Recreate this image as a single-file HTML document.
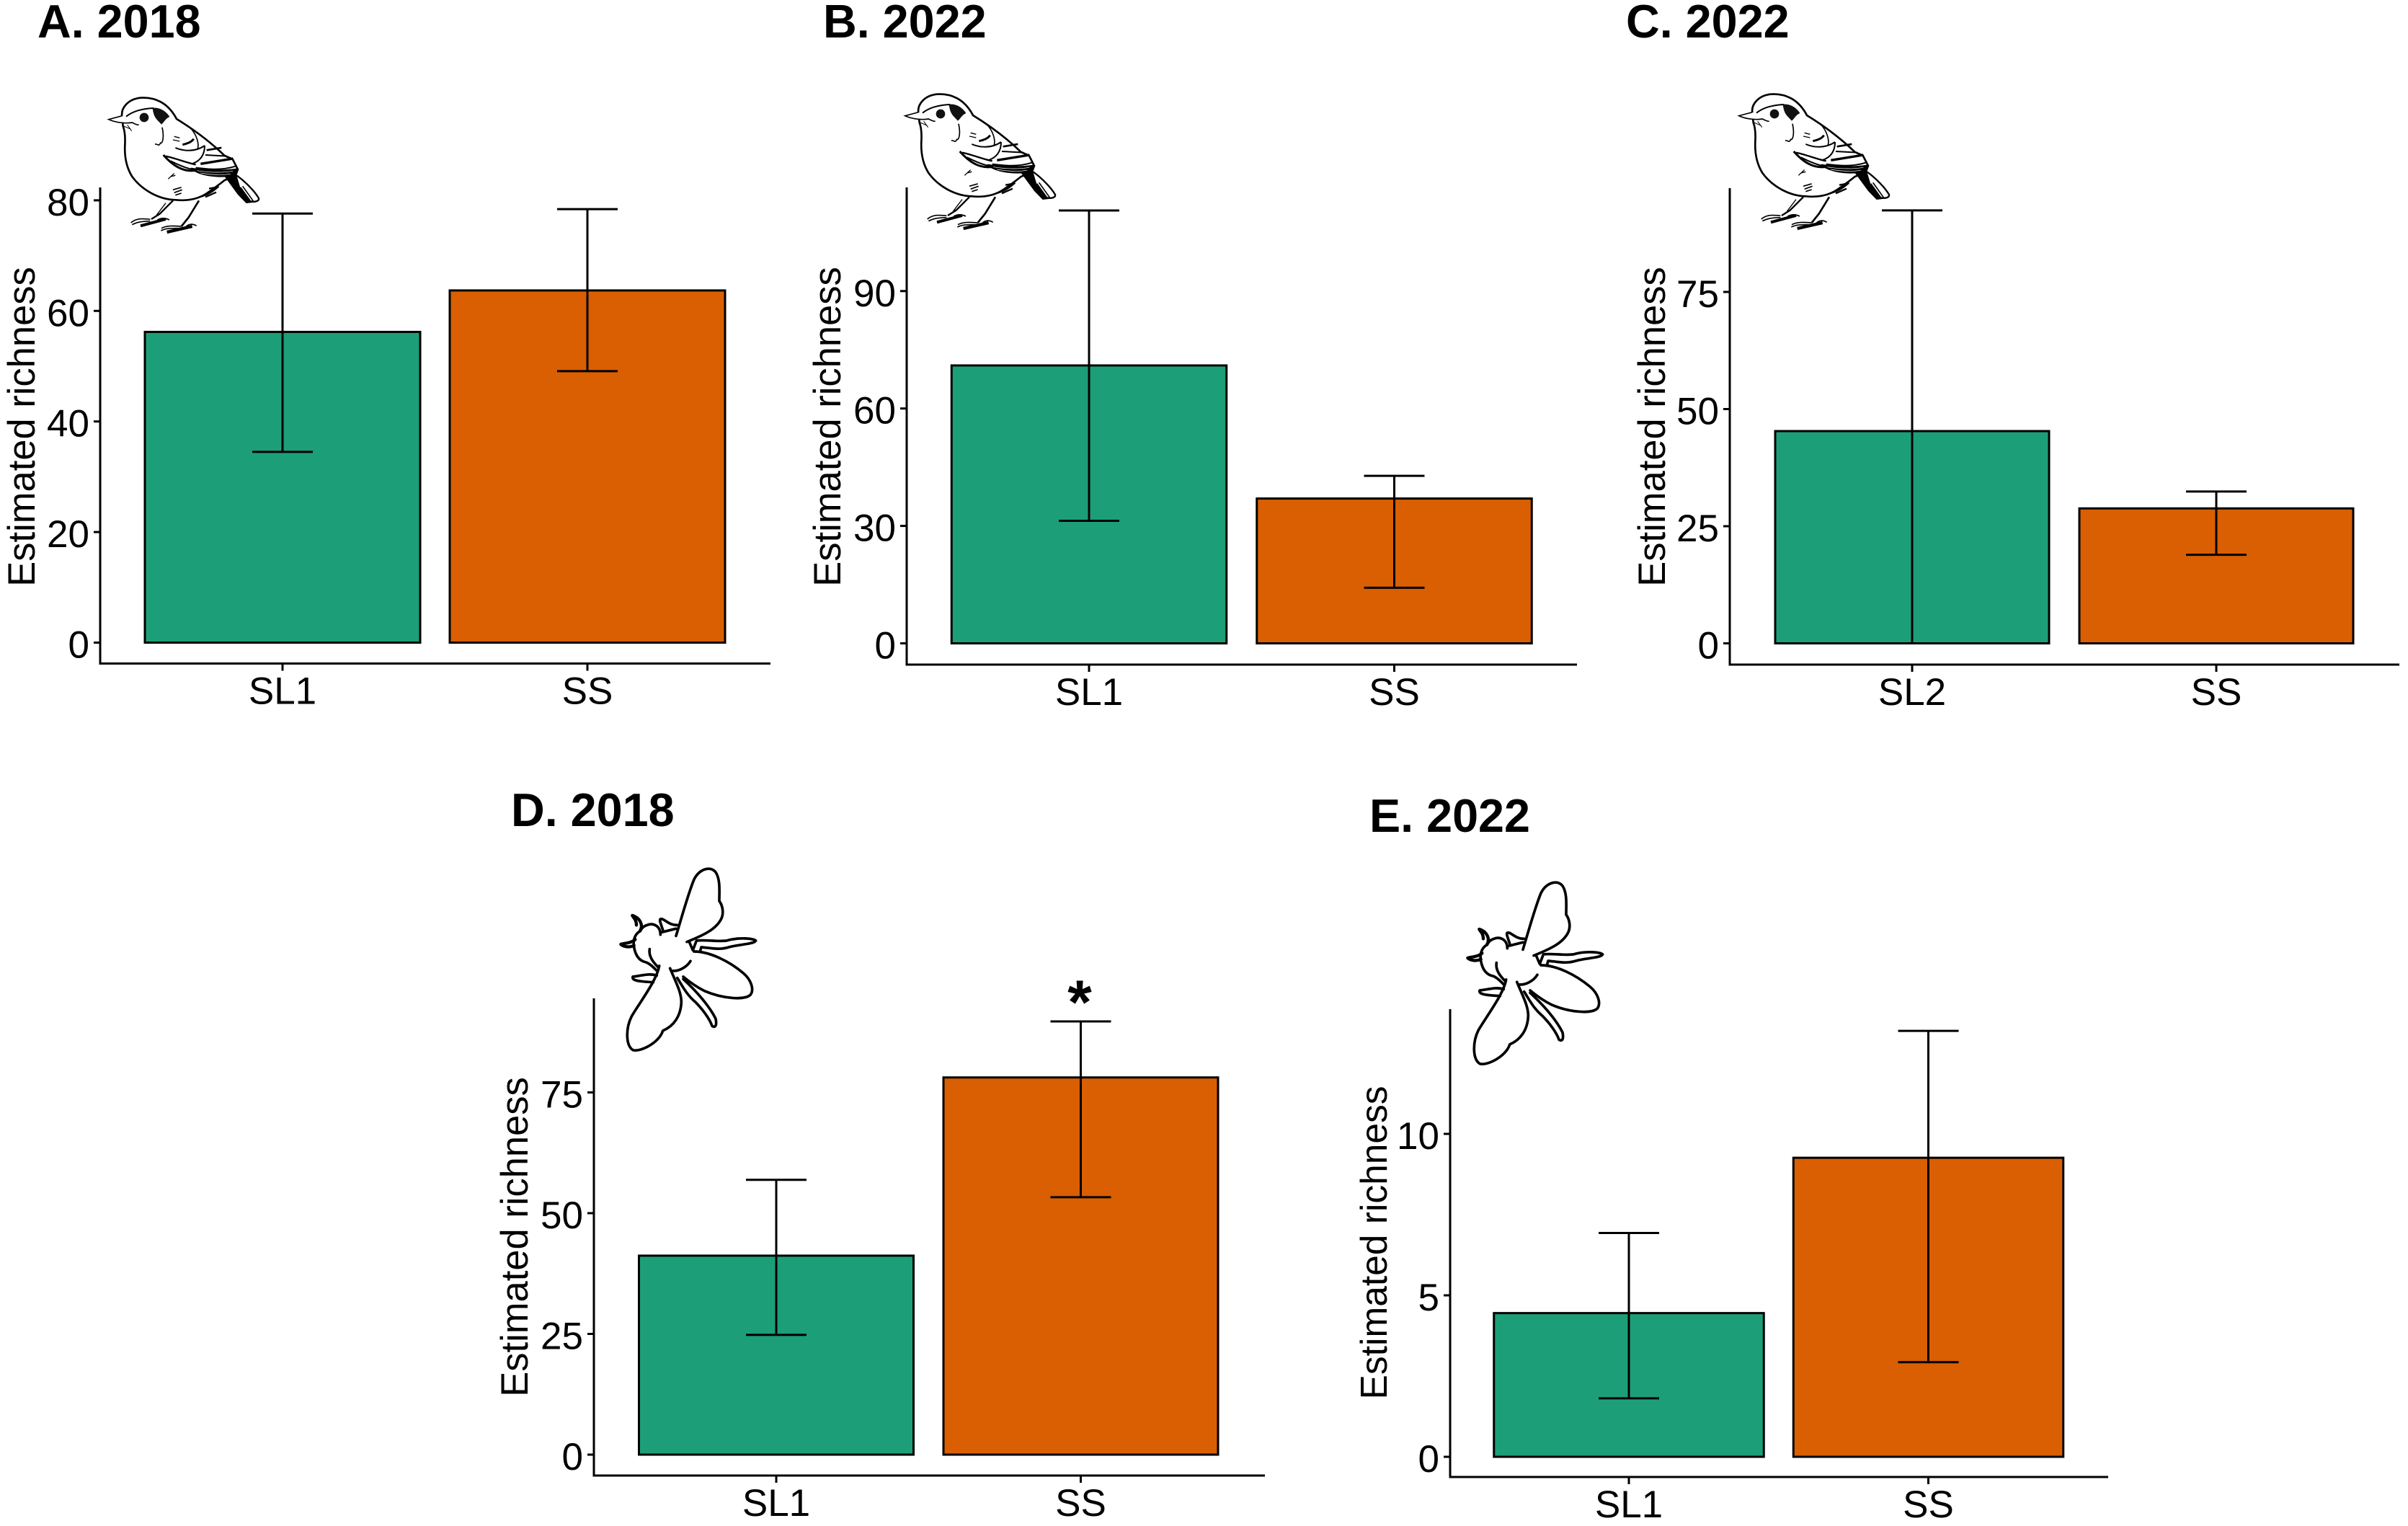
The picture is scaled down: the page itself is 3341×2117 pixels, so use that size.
<!DOCTYPE html>
<html lang="en">
<head>
<meta charset="utf-8">
<title>Estimated richness by habitat</title>
<style>
html,body{margin:0;padding:0;background:#fff;}
svg{display:block;}
text{font-family:"Liberation Sans",Arial,sans-serif;fill:#000;}
</style>
</head>
<body>
<svg id="figure" xmlns="http://www.w3.org/2000/svg" width="3341" height="2117" viewBox="0 0 3341 2117">
  <defs>
    <g id="bird-icon">
      <path d="M118,125 C112,88 145,52 195,47 C255,43 310,68 345,135 C405,172 480,225 545,288 L578,302 L600,345 L590,372 L545,390 C520,410 500,425 470,445 C440,465 400,478 340,472 C270,470 200,430 160,375 C135,335 128,290 130,245 C132,210 130,185 122,165 Z" fill="#fff" stroke="#000" stroke-width="8"/>
      <path d="M118,122 L62,137 C90,150 130,155 160,150 C170,155 178,160 188,160" fill="#fff" stroke="#000" stroke-width="5"/>
      <path d="M125,165 L155,178 M140,160 L158,185" fill="none" stroke="#000" stroke-width="3"/>
      <circle cx="210" cy="129" r="19" fill="#111"/>
      <path d="M245,90 C270,85 300,100 316,126 C298,134 292,150 282,158 C268,140 250,135 245,90 Z" fill="#111"/>
      <path d="M135,125 C160,105 200,92 250,90" fill="none" stroke="#000" stroke-width="6"/>
      <path d="M545,375 L590,368 L640,425 L672,482 L635,486 L600,450 Z" fill="#000"/>
      <path d="M595,370 C630,395 670,435 687,465 C690,478 670,482 652,478 L610,420" fill="#fff" stroke="#000" stroke-width="7"/>
      <path d="M620,415 L665,478" fill="none" stroke="#000" stroke-width="5"/>
      <path d="M405,338 C470,348 540,350 600,340 L590,372 C530,382 450,378 405,345 Z" fill="#000"/>
      <path d="M430,350 C480,358 530,360 580,352 M445,360 C490,368 530,370 570,364" fill="none" stroke="#fff" stroke-width="2"/>
      <g fill="none" stroke="#000" stroke-width="6">
        <path d="M290,285 C330,330 370,355 420,350" stroke-width="9"/>
        <path d="M300,290 C345,300 395,320 425,325" stroke-width="7"/>
        <path d="M320,310 C350,325 385,340 410,345" stroke-width="6"/>
        <path d="M340,255 C370,268 420,275 462,246"/>
        <path d="M462,246 C462,285 445,310 408,322"/>
        <path d="M400,170 C430,200 440,240 432,262" stroke-width="5"/>
        <path d="M470,265 L532,255" stroke-width="8"/>
        <path d="M465,285 L555,290" stroke-width="6"/>
        <path d="M445,322 L580,300" stroke-width="10"/>
        <path d="M425,338 C480,345 530,350 590,332" stroke-width="6"/>
        <path d="M370,242 C395,237 410,228 416,218" stroke-width="9"/>
        <path d="M255,240 C268,238 270,252 278,235 C285,240 295,215 285,170" stroke-width="5"/>
        <path d="M335,208 L358,214 M330,222 L358,228" stroke-width="4"/>
        <path d="M310,385 L335,362 M320,375 L340,370" stroke-width="4"/>
        <path d="M330,430 L365,420 M335,442 L368,430 M340,452 L365,444" stroke-width="5"/>
        <path d="M440,460 C480,450 505,430 520,415 M465,460 L510,440 M480,425 L520,418" stroke-width="7"/>
        <path d="M330,475 L275,530 L240,552" stroke-width="7"/>
        <path d="M300,485 L262,535" stroke-width="4"/>
        <path d="M438,475 L395,545 L365,582" stroke-width="8"/>
        <path d="M155,567 C175,550 195,548 235,553 M160,575 C185,562 205,562 235,560 M265,555 C285,545 300,548 315,555" stroke-width="5"/>
        <path d="M195,580 L300,552" stroke-width="12"/>
        <path d="M282,590 C305,578 330,580 365,582 M280,600 C300,590 320,590 355,590 M385,582 C400,570 415,572 428,580" stroke-width="5"/>
        <path d="M305,606 L410,582" stroke-width="13"/>
      </g>
    </g>
    <g id="fly-icon" fill="none" stroke="#000" stroke-width="11" stroke-linejoin="round" stroke-linecap="round">
      <path d="M300,325 C320,260 350,150 375,90 C395,50 440,30 465,60 C485,90 480,140 480,180 C495,200 498,230 490,250 C470,295 420,320 345,350"/>
      <path d="M375,390 C440,390 520,430 580,480 C615,510 625,550 610,570 C585,595 490,585 420,555 C390,540 360,520 330,495"/>
      <path d="M230,450 C220,510 150,600 115,660 C90,710 90,780 120,800 C150,810 230,770 245,720 C290,700 320,660 322,600 C322,560 300,520 275,460"/>
      <path d="M235,320 C235,280 200,270 180,280 C160,285 155,300 150,305 C125,320 118,350 128,385 C135,410 150,430 175,435 C190,440 205,455 220,470"/>
      <path d="M150,305 C165,280 150,250 118,240 C120,248 135,255 135,280" stroke-width="13"/>
      <path d="M125,365 C105,375 80,370 70,360 C85,355 115,355 130,340" stroke-width="13"/>
      <path d="M245,300 C235,270 230,260 235,255 C250,250 265,280 305,280"/>
      <path d="M240,310 L300,295"/>
      <path d="M355,350 L370,385 L385,345 C420,340 470,350 510,345 C560,330 620,335 632,345 C625,360 560,360 520,372 C480,385 440,375 405,372 L400,390"/>
      <path d="M220,490 C190,480 160,490 120,495 C115,510 140,515 205,518"/>
      <path d="M305,500 C330,540 345,570 380,600 C410,630 440,670 450,700 C465,710 470,695 465,670 C440,620 390,560 330,505"/>
      <path d="M190,380 C185,410 205,435 225,455"/>
      <path d="M360,430 C345,455 310,475 280,470"/>
    </g>
  </defs>
  <use href="#bird-icon" transform="translate(130,120) scale(0.3333)"/>
  <use href="#bird-icon" transform="translate(1235,115) scale(0.3333)"/>
  <use href="#bird-icon" transform="translate(2392,115) scale(0.3333)"/>
  <use href="#fly-icon" transform="translate(838,1190) scale(0.3333)"/>
  <use href="#fly-icon" transform="translate(2013,1209) scale(0.3333)"/>
  <text x="52" y="52" font-size="64.7" font-weight="700">A. 2018</text>
  <text x="1142" y="52" font-size="64.7" font-weight="700">B. 2022</text>
  <text x="2256" y="52" font-size="64.7" font-weight="700">C. 2022</text>
  <text x="709" y="1146" font-size="64.7" font-weight="700">D. 2018</text>
  <text x="1900" y="1154" font-size="64.7" font-weight="700">E. 2022</text>
  <text x="1498" y="1420" font-size="86" font-weight="700" text-anchor="middle">*</text>
</svg>
<script>
const panelACategories = ['SL1', 'SS'];
const panelAEstimates = [56.2, 63.7];
const panelAUpper = [77.6, 78.4];
const panelALower = [34.5, 49.1];
const panelATicks = [0, 20, 40, 60, 80];

const panelBCategories = ['SL1', 'SS'];
const panelBEstimates = [71, 37];
const panelBUpper = [110.6, 42.8];
const panelBLower = [31.3, 14.2];
const panelBTicks = [0, 30, 60, 90];

const panelCCategories = ['SL2', 'SS'];
const panelCEstimates = [45.3, 28.8];
const panelCUpper = [92.4, 32.4];
const panelCLower = [0, 18.9];
const panelCTicks = [0, 25, 50, 75];

const panelDCategories = ['SL1', 'SS'];
const panelDEstimates = [41.2, 78.1];
const panelDUpper = [56.9, 89.7];
const panelDLower = [24.8, 53.3];
const panelDTicks = [0, 25, 50, 75];

const panelECategories = ['SL1', 'SS'];
const panelEEstimates = [4.45, 9.26];
const panelEUpper = [6.93, 13.19];
const panelELower = [1.81, 2.93];
const panelETicks = [0, 5, 10];

const barColors = ['#1c9f78', '#d95f02'];
const svgNS = 'http://www.w3.org/2000/svg';
const figure = document.getElementById('figure');

function make(parent, tag, attrs, content) {
  const el = document.createElementNS(svgNS, tag);
  Object.keys(attrs).forEach(function (k) { el.setAttribute(k, attrs[k]); });
  if (content !== undefined) el.textContent = content;
  parent.appendChild(el);
  return el;
}

function drawPanel(id, frame, categories, estimates, upper, lower, ticks) {
  const g = make(figure, 'g', {});
  
  

  const scaleY = function (v) { return frame.zeroY - v * frame.unitPx; };
  const scaleX = function (i) { return frame.firstCenter + i * frame.step; };
  const ink = { stroke: '#000', 'stroke-width': 3 };

  categories.forEach(function (cat, i) {
    const bar = make(g, 'rect', {
      x: scaleX(i) - frame.barWidth / 2,
      y: scaleY(estimates[i]),
      width: frame.barWidth,
      height: scaleY(0) - scaleY(estimates[i]),
      fill: barColors[i],
      stroke: '#000',
      'stroke-width': 3
    });
    
    
  });

  categories.forEach(function (cat, i) {
    const x = scaleX(i);
    const err = make(g, 'g', ink);
    
    
    make(err, 'line', { x1: x, x2: x, y1: scaleY(upper[i]), y2: scaleY(lower[i]) });
    make(err, 'line', { x1: x - 42, x2: x + 42, y1: scaleY(upper[i]), y2: scaleY(upper[i]) });
    make(err, 'line', { x1: x - 42, x2: x + 42, y1: scaleY(lower[i]), y2: scaleY(lower[i]) });
  });

  const yAxis = make(g, 'line', Object.assign({ x1: frame.axisX, x2: frame.axisX, y1: frame.axisTop, y2: frame.axisBottom + 1.5 }, ink));
  
  

  const xAxis = make(g, 'line', Object.assign({ x1: frame.axisX - 1.5, x2: frame.axisRight, y1: frame.axisBottom, y2: frame.axisBottom }, ink));
  
  

  ticks.forEach(function (t) {
    const y = scaleY(t);
    const mark = make(g, 'line', Object.assign({ x1: frame.axisX - 9, x2: frame.axisX, y1: y, y2: y }, ink));
    
    
    const label = make(g, 'text', { x: frame.axisX - 15, y: y + 21, 'font-size': 53, 'text-anchor': 'end' }, String(t));
    
    
  });

  categories.forEach(function (cat, i) {
    const x = scaleX(i);
    const mark = make(g, 'line', Object.assign({ x1: x, x2: x, y1: frame.axisBottom, y2: frame.axisBottom + 10 }, ink));
    
    
    const label = make(g, 'text', { x: x, y: frame.axisBottom + 56, 'font-size': 53, 'text-anchor': 'middle' }, cat);
    
    
  });

  const yTitle = make(g, 'text', {
    transform: 'translate(' + frame.titleX + ',' + frame.titleY + ') rotate(-90)',
    'font-size': frame.titleSize,
    'text-anchor': 'middle'
  }, 'Estimated richness');
  
  
}

drawPanel('a', { axisX: 139, axisTop: 260, axisBottom: 920.5, axisRight: 1069, zeroY: 891.5, unitPx: 7.67, firstCenter: 392, step: 423, barWidth: 382, titleX: 48, titleY: 592, titleSize: 52.5 },
  panelACategories, panelAEstimates, panelAUpper, panelALower, panelATicks);
drawPanel('b', { axisX: 1258, axisTop: 260, axisBottom: 922, axisRight: 2188, zeroY: 892.5, unitPx: 5.43, firstCenter: 1511, step: 423.5, barWidth: 381.5, titleX: 1166, titleY: 592, titleSize: 52.5 },
  panelBCategories, panelBEstimates, panelBUpper, panelBLower, panelBTicks);
drawPanel('c', { axisX: 2400, axisTop: 261, axisBottom: 922, axisRight: 3329, zeroY: 892.5, unitPx: 6.5, firstCenter: 2653, step: 422, barWidth: 380, titleX: 2310, titleY: 592, titleSize: 52.5 },
  panelCCategories, panelCEstimates, panelCUpper, panelCLower, panelCTicks);
drawPanel('d', { axisX: 824, axisTop: 1385, axisBottom: 2047, axisRight: 1755, zeroY: 2018, unitPx: 6.7, firstCenter: 1077, step: 422.5, barWidth: 381, titleX: 732, titleY: 1716, titleSize: 52.5 },
  panelDCategories, panelDEstimates, panelDUpper, panelDLower, panelDTicks);
drawPanel('e', { axisX: 2012, axisTop: 1400, axisBottom: 2049, axisRight: 2925, zeroY: 2021, unitPx: 44.8, firstCenter: 2260, step: 415.5, barWidth: 374.5, titleX: 1924, titleY: 1724, titleSize: 51.5 },
  panelECategories, panelEEstimates, panelEUpper, panelELower, panelETicks);
</script>
</body>
</html>
